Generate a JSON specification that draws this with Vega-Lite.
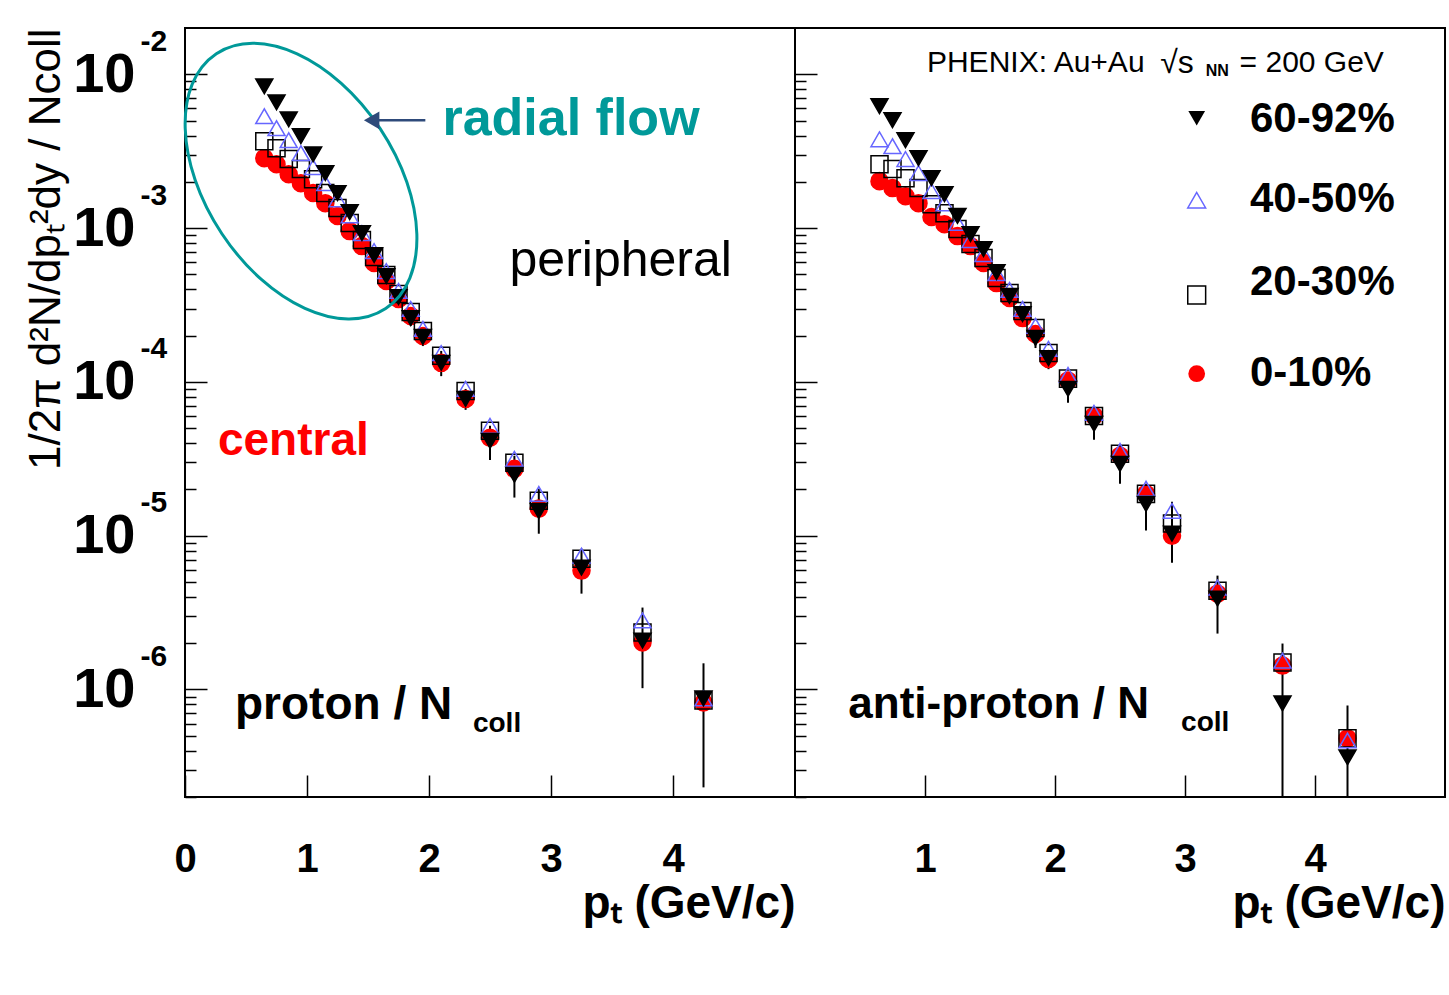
{
"$schema": "https://vega.github.io/schema/vega-lite/v6.json",
"background": "white",
"padding": {"left": 23, "top": 25, "right": 2, "bottom": 10},
"spacing": 0,
"bounds": "flush",
"config": {
  "font": "Liberation Sans",
  "view": {"stroke": "#000000", "strokeWidth": 2},
  "axis": {"domain": false, "grid": false, "tickColor": "#000000", "tickWidth": 1.5, "labelColor": "#000000", "titleColor": "#000000", "labelFont": "Liberation Sans", "titleFont": "Liberation Sans", "labelOverlap": false, "labelFlush": false}
},
"datasets": {
"spectra": [
{"panel":"p","cent":"0-10%","pt":0.65,"y":2.85e-3},{"panel":"p","cent":"0-10%","pt":0.75,"y":2.60e-3},{"panel":"p","cent":"0-10%","pt":0.85,"y":2.24e-3},{"panel":"p","cent":"0-10%","pt":0.95,"y":1.96e-3},{"panel":"p","cent":"0-10%","pt":1.05,"y":1.69e-3},{"panel":"p","cent":"0-10%","pt":1.15,"y":1.45e-3},{"panel":"p","cent":"0-10%","pt":1.25,"y":1.20e-3},{"panel":"p","cent":"0-10%","pt":1.35,"y":9.56e-4},{"panel":"p","cent":"0-10%","pt":1.45,"y":7.64e-4},{"panel":"p","cent":"0-10%","pt":1.55,"y":5.93e-4},{"panel":"p","cent":"0-10%","pt":1.65,"y":4.53e-4},{"panel":"p","cent":"0-10%","pt":1.75,"y":3.46e-4},{"panel":"p","cent":"0-10%","pt":1.85,"y":2.68e-4},{"panel":"p","cent":"0-10%","pt":1.95,"y":1.99e-4},{"panel":"p","cent":"0-10%","pt":2.1,"y":1.33e-4},{"panel":"p","cent":"0-10%","pt":2.3,"y":7.75e-5},{"panel":"p","cent":"0-10%","pt":2.5,"y":4.33e-5},{"panel":"p","cent":"0-10%","pt":2.7,"y":2.72e-5},{"panel":"p","cent":"0-10%","pt":2.9,"y":1.50e-5},{"panel":"p","cent":"0-10%","pt":3.25,"y":5.93e-6},{"panel":"p","cent":"0-10%","pt":3.75,"y":2.02e-6},{"panel":"p","cent":"0-10%","pt":4.25,"y":8.23e-7},
{"panel":"p","cent":"20-30%","pt":0.65,"y":3.67e-3},{"panel":"p","cent":"20-30%","pt":0.75,"y":3.31e-3},{"panel":"p","cent":"20-30%","pt":0.85,"y":2.81e-3},{"panel":"p","cent":"20-30%","pt":0.95,"y":2.42e-3},{"panel":"p","cent":"20-30%","pt":1.05,"y":2.08e-3},{"panel":"p","cent":"20-30%","pt":1.15,"y":1.69e-3},{"panel":"p","cent":"20-30%","pt":1.25,"y":1.35e-3},{"panel":"p","cent":"20-30%","pt":1.35,"y":1.08e-3},{"panel":"p","cent":"20-30%","pt":1.45,"y":8.36e-4},{"panel":"p","cent":"20-30%","pt":1.55,"y":6.48e-4},{"panel":"p","cent":"20-30%","pt":1.65,"y":4.95e-4},{"panel":"p","cent":"20-30%","pt":1.75,"y":3.73e-4},{"panel":"p","cent":"20-30%","pt":1.85,"y":2.85e-4},{"panel":"p","cent":"20-30%","pt":1.95,"y":2.14e-4},{"panel":"p","cent":"20-30%","pt":2.1,"y":1.48e-4},{"panel":"p","cent":"20-30%","pt":2.3,"y":8.74e-5},{"panel":"p","cent":"20-30%","pt":2.5,"y":4.81e-5},{"panel":"p","cent":"20-30%","pt":2.7,"y":2.98e-5},{"panel":"p","cent":"20-30%","pt":2.9,"y":1.69e-5},{"panel":"p","cent":"20-30%","pt":3.25,"y":7.09e-6},{"panel":"p","cent":"20-30%","pt":3.75,"y":2.35e-6},{"panel":"p","cent":"20-30%","pt":4.25,"y":8.48e-7},
{"panel":"p","cent":"40-50%","pt":0.65,"y":5.34e-3},{"panel":"p","cent":"40-50%","pt":0.75,"y":4.46e-3},{"panel":"p","cent":"40-50%","pt":0.85,"y":3.73e-3},{"panel":"p","cent":"40-50%","pt":0.95,"y":3.07e-3},{"panel":"p","cent":"40-50%","pt":1.05,"y":2.49e-3},{"panel":"p","cent":"40-50%","pt":1.15,"y":1.96e-3},{"panel":"p","cent":"40-50%","pt":1.25,"y":1.54e-3},{"panel":"p","cent":"40-50%","pt":1.35,"y":1.21e-3},{"panel":"p","cent":"40-50%","pt":1.45,"y":9.28e-4},{"panel":"p","cent":"40-50%","pt":1.55,"y":7.09e-4},{"panel":"p","cent":"40-50%","pt":1.65,"y":5.26e-4},{"panel":"p","cent":"40-50%","pt":1.75,"y":3.90e-4},{"panel":"p","cent":"40-50%","pt":1.85,"y":2.98e-4},{"panel":"p","cent":"40-50%","pt":1.95,"y":2.21e-4},{"panel":"p","cent":"40-50%","pt":2.1,"y":1.54e-4},{"panel":"p","cent":"40-50%","pt":2.3,"y":9.01e-5},{"panel":"p","cent":"40-50%","pt":2.5,"y":5.18e-5},{"panel":"p","cent":"40-50%","pt":2.7,"y":3.16e-5},{"panel":"p","cent":"40-50%","pt":2.9,"y":1.87e-5},{"panel":"p","cent":"40-50%","pt":3.25,"y":7.42e-6},{"panel":"p","cent":"40-50%","pt":3.75,"y":2.81e-6},{"panel":"p","cent":"40-50%","pt":4.25,"y":8.74e-7},
{"panel":"p","cent":"60-92%","pt":0.65,"y":8.36e-3},{"panel":"p","cent":"60-92%","pt":0.75,"y":6.58e-3},{"panel":"p","cent":"60-92%","pt":0.85,"y":5.10e-3},{"panel":"p","cent":"60-92%","pt":0.95,"y":3.96e-3},{"panel":"p","cent":"60-92%","pt":1.05,"y":3.02e-3},{"panel":"p","cent":"60-92%","pt":1.15,"y":2.28e-3},{"panel":"p","cent":"60-92%","pt":1.25,"y":1.69e-3},{"panel":"p","cent":"60-92%","pt":1.35,"y":1.27e-3},{"panel":"p","cent":"60-92%","pt":1.45,"y":9.28e-4},{"panel":"p","cent":"60-92%","pt":1.55,"y":6.68e-4},{"panel":"p","cent":"60-92%","pt":1.65,"y":4.88e-4},{"panel":"p","cent":"60-92%","pt":1.75,"y":3.56e-4},{"panel":"p","cent":"60-92%","pt":1.85,"y":2.60e-4,"lo":2.31e-4,"hi":2.9e-4},{"panel":"p","cent":"60-92%","pt":1.95,"y":1.96e-4,"lo":1.71e-4,"hi":2.2e-4},{"panel":"p","cent":"60-92%","pt":2.1,"y":1.33e-4,"lo":1.09e-4,"hi":1.59e-4},{"panel":"p","cent":"60-92%","pt":2.3,"y":7.75e-5,"lo":6.58e-5,"hi":9.0e-5},{"panel":"p","cent":"60-92%","pt":2.5,"y":4.14e-5,"lo":3.11e-5,"hi":5.18e-5},{"panel":"p","cent":"60-92%","pt":2.7,"y":2.49e-5,"lo":1.77e-5,"hi":3.31e-5},{"panel":"p","cent":"60-92%","pt":2.9,"y":1.45e-5,"lo":1.03e-5,"hi":2.02e-5},{"panel":"p","cent":"60-92%","pt":3.25,"y":6.20e-6,"lo":4.2e-6,"hi":8.23e-6},{"panel":"p","cent":"60-92%","pt":3.75,"y":2.08e-6,"lo":1.02e-6,"hi":3.41e-6},{"panel":"p","cent":"60-92%","pt":4.25,"y":8.74e-7,"lo":2.31e-7,"hi":1.48e-6},
{"panel":"a","cent":"0-10%","pt":0.65,"y":2.02e-3},{"panel":"a","cent":"0-10%","pt":0.75,"y":1.82e-3},{"panel":"a","cent":"0-10%","pt":0.85,"y":1.61e-3},{"panel":"a","cent":"0-10%","pt":0.95,"y":1.45e-3},{"panel":"a","cent":"0-10%","pt":1.05,"y":1.18e-3},{"panel":"a","cent":"0-10%","pt":1.15,"y":1.06e-3},{"panel":"a","cent":"0-10%","pt":1.25,"y":8.87e-4},{"panel":"a","cent":"0-10%","pt":1.35,"y":7.64e-4},{"panel":"a","cent":"0-10%","pt":1.45,"y":5.93e-4},{"panel":"a","cent":"0-10%","pt":1.55,"y":4.39e-4},{"panel":"a","cent":"0-10%","pt":1.65,"y":3.51e-4},{"panel":"a","cent":"0-10%","pt":1.75,"y":2.60e-4},{"panel":"a","cent":"0-10%","pt":1.85,"y":2.05e-4},{"panel":"a","cent":"0-10%","pt":1.95,"y":1.41e-4},{"panel":"a","cent":"0-10%","pt":2.1,"y":1.02e-4},{"panel":"a","cent":"0-10%","pt":2.3,"y":6.01e-5},{"panel":"a","cent":"0-10%","pt":2.5,"y":3.31e-5},{"panel":"a","cent":"0-10%","pt":2.7,"y":1.87e-5},{"panel":"a","cent":"0-10%","pt":2.9,"y":1.00e-5},{"panel":"a","cent":"0-10%","pt":3.25,"y":4.20e-6},{"panel":"a","cent":"0-10%","pt":3.75,"y":1.43e-6},{"panel":"a","cent":"0-10%","pt":4.25,"y":4.81e-7},
{"panel":"a","cent":"20-30%","pt":0.65,"y":2.60e-3},{"panel":"a","cent":"20-30%","pt":0.75,"y":2.42e-3},{"panel":"a","cent":"20-30%","pt":0.85,"y":2.11e-3},{"panel":"a","cent":"20-30%","pt":0.95,"y":1.82e-3},{"panel":"a","cent":"20-30%","pt":1.05,"y":1.43e-3},{"panel":"a","cent":"20-30%","pt":1.15,"y":1.25e-3},{"panel":"a","cent":"20-30%","pt":1.25,"y":9.85e-4},{"panel":"a","cent":"20-30%","pt":1.35,"y":7.87e-4},{"panel":"a","cent":"20-30%","pt":1.45,"y":6.39e-4},{"panel":"a","cent":"20-30%","pt":1.55,"y":4.73e-4},{"panel":"a","cent":"20-30%","pt":1.65,"y":3.78e-4},{"panel":"a","cent":"20-30%","pt":1.75,"y":2.89e-4},{"panel":"a","cent":"20-30%","pt":1.85,"y":2.24e-4},{"panel":"a","cent":"20-30%","pt":1.95,"y":1.54e-4},{"panel":"a","cent":"20-30%","pt":2.1,"y":1.05e-4},{"panel":"a","cent":"20-30%","pt":2.3,"y":6.01e-5},{"panel":"a","cent":"20-30%","pt":2.5,"y":3.41e-5},{"panel":"a","cent":"20-30%","pt":2.7,"y":1.87e-5},{"panel":"a","cent":"20-30%","pt":2.9,"y":1.20e-5},{"panel":"a","cent":"20-30%","pt":3.25,"y":4.39e-6},{"panel":"a","cent":"20-30%","pt":3.75,"y":1.50e-6},{"panel":"a","cent":"20-30%","pt":4.25,"y":4.81e-7},
{"panel":"a","cent":"40-50%","pt":0.65,"y":3.78e-3},{"panel":"a","cent":"40-50%","pt":0.75,"y":3.41e-3},{"panel":"a","cent":"40-50%","pt":0.85,"y":2.81e-3},{"panel":"a","cent":"40-50%","pt":0.95,"y":2.28e-3},{"panel":"a","cent":"40-50%","pt":1.05,"y":1.74e-3},{"panel":"a","cent":"40-50%","pt":1.15,"y":1.45e-3},{"panel":"a","cent":"40-50%","pt":1.25,"y":1.08e-3},{"panel":"a","cent":"40-50%","pt":1.35,"y":8.36e-4},{"panel":"a","cent":"40-50%","pt":1.45,"y":6.78e-4},{"panel":"a","cent":"40-50%","pt":1.55,"y":5.10e-4},{"panel":"a","cent":"40-50%","pt":1.65,"y":3.96e-4},{"panel":"a","cent":"40-50%","pt":1.75,"y":2.98e-4},{"panel":"a","cent":"40-50%","pt":1.85,"y":2.31e-4},{"panel":"a","cent":"40-50%","pt":1.95,"y":1.64e-4},{"panel":"a","cent":"40-50%","pt":2.1,"y":1.11e-4},{"panel":"a","cent":"40-50%","pt":2.3,"y":6.29e-5},{"panel":"a","cent":"40-50%","pt":2.5,"y":3.56e-5},{"panel":"a","cent":"40-50%","pt":2.7,"y":2.02e-5},{"panel":"a","cent":"40-50%","pt":2.9,"y":1.45e-5},{"panel":"a","cent":"40-50%","pt":3.25,"y":4.60e-6},{"panel":"a","cent":"40-50%","pt":3.75,"y":1.54e-6},{"panel":"a","cent":"40-50%","pt":4.25,"y":4.66e-7},
{"panel":"a","cent":"60-92%","pt":0.65,"y":6.20e-3},{"panel":"a","cent":"60-92%","pt":0.75,"y":5.03e-3},{"panel":"a","cent":"60-92%","pt":0.85,"y":3.73e-3},{"panel":"a","cent":"60-92%","pt":0.95,"y":2.85e-3},{"panel":"a","cent":"60-92%","pt":1.05,"y":2.11e-3},{"panel":"a","cent":"60-92%","pt":1.15,"y":1.66e-3},{"panel":"a","cent":"60-92%","pt":1.25,"y":1.20e-3},{"panel":"a","cent":"60-92%","pt":1.35,"y":9.14e-4},{"panel":"a","cent":"60-92%","pt":1.45,"y":7.31e-4},{"panel":"a","cent":"60-92%","pt":1.55,"y":5.18e-4},{"panel":"a","cent":"60-92%","pt":1.65,"y":3.62e-4},{"panel":"a","cent":"60-92%","pt":1.75,"y":2.76e-4},{"panel":"a","cent":"60-92%","pt":1.85,"y":1.93e-4,"lo":1.66e-4,"hi":2.2e-4},{"panel":"a","cent":"60-92%","pt":1.95,"y":1.43e-4,"lo":1.21e-4,"hi":1.59e-4},{"panel":"a","cent":"60-92%","pt":2.1,"y":9.01e-5,"lo":7.31e-5,"hi":1.05e-4},{"panel":"a","cent":"60-92%","pt":2.3,"y":5.34e-5,"lo":4.2e-5,"hi":6.48e-5},{"panel":"a","cent":"60-92%","pt":2.5,"y":2.93e-5,"lo":2.18e-5,"hi":3.9e-5},{"panel":"a","cent":"60-92%","pt":2.7,"y":1.61e-5,"lo":1.08e-5,"hi":2.18e-5},{"panel":"a","cent":"60-92%","pt":2.9,"y":1.03e-5,"lo":6.68e-6,"hi":1.66e-5},{"panel":"a","cent":"60-92%","pt":3.25,"y":3.90e-6,"lo":2.31e-6,"hi":5.5e-6},{"panel":"a","cent":"60-92%","pt":3.75,"y":8.11e-7,"lo":2.0e-7,"hi":1.99e-6},{"panel":"a","cent":"60-92%","pt":4.25,"y":3.62e-7,"lo":2.0e-7,"hi":7.87e-7}
]
},
"hconcat": [
{
  "width": 610, "height": 769,
  "data": {"name": "spectra"},
  "layer": [
    {
      "transform": [{"filter": "datum.panel == 'p' && isValid(datum.lo)"}],
      "mark": {"type": "rule", "color": "#000000", "strokeWidth": 2, "clip": true},
      "encoding": {
        "x": {"field": "pt", "type": "quantitative", "scale": {"domain": [0, 5], "nice": false, "zero": false}, "axis": null},
        "y": {"field": "lo", "type": "quantitative", "scale": {"type": "log", "domain": [2e-7, 0.02], "nice": false},
              "axis": {"orient": "left", "values": [2e-7,3e-7,4e-7,5e-7,6e-7,7e-7,8e-7,9e-7,2e-6,3e-6,4e-6,5e-6,6e-6,7e-6,8e-6,9e-6,2e-5,3e-5,4e-5,5e-5,6e-5,7e-5,8e-5,9e-5,2e-4,3e-4,4e-4,5e-4,6e-4,7e-4,8e-4,9e-4,2e-3,3e-3,4e-3,5e-3,6e-3,7e-3,8e-3,9e-3], "labels": false, "tickSize": -11, "title": null}},
        "y2": {"field": "hi"}
      }
    },
    {
      "transform": [{"filter": "datum.panel == 'p'"}],
      "mark": {"type": "point", "filled": true, "strokeWidth": 1.5, "size": 290, "opacity": 1},
      "encoding": {
        "x": {"field": "pt", "type": "quantitative", "scale": {"domain": [0, 5], "nice": false, "zero": false},
              "axis": {"orient": "bottom", "values": [0, 1, 2, 3, 4], "tickSize": -22, "labelFontSize": 40, "labelFontWeight": "bold", "labelPadding": 64, "title": "pₜ (GeV/c)", "titleFontSize": 46, "titleFontWeight": "bold", "titleAnchor": "end", "titlePadding": 2}},
        "y": {"field": "y", "type": "quantitative", "scale": {"type": "log", "domain": [2e-7, 0.02], "nice": false},
              "axis": {"orient": "left", "values": [1e-6, 1e-5, 1e-4, 1e-3, 1e-2], "tickSize": -22, "labelExpr": "'10'", "labelFontSize": 56, "labelFontWeight": "bold", "labelPadding": 72, "title": "1/2π d²N/dpₜ²dy / Ncoll", "titleFontSize": 44, "titleFontWeight": "normal", "titleAnchor": "end", "titlePadding": 4}},
        "shape": {"field": "cent", "type": "nominal", "scale": {"domain": ["60-92%", "40-50%", "20-30%", "0-10%"], "range": ["triangle-down", "triangle-up", "square", "circle"]}, "legend": null},
        "fill": {"field": "cent", "type": "nominal", "scale": {"domain": ["60-92%", "40-50%", "20-30%", "0-10%"], "range": ["#000000", "transparent", "transparent", "#ff0000"]}, "legend": null},
        "stroke": {"field": "cent", "type": "nominal", "scale": {"domain": ["60-92%", "40-50%", "20-30%", "0-10%"], "range": ["#000000", "#6666ff", "#000000", "#ff0000"]}, "legend": null}
      }
    },
    {
      "data": {"values": [{}]},
      "mark": {"type": "text", "text": "central", "align": "left", "baseline": "middle", "fontSize": 46, "fontWeight": "bold", "color": "#ff0000", "font": "Liberation Sans"},
      "encoding": {
        "x": {"datum": 0.27, "type": "quantitative", "scale": {"domain": [0, 5], "nice": false, "zero": false}, "axis": null},
        "y": {"datum": 4.14e-5, "type": "quantitative", "scale": {"type": "log", "domain": [2e-7, 0.02], "nice": false},
              "axis": {"orient": "left", "values": [1e-6, 1e-5, 1e-4, 1e-3, 1e-2], "ticks": false, "tickSize": 0, "labelExpr": "'' + round(log(datum.value)/LN10)", "labelFontSize": 30, "labelFontWeight": "bold", "labelAlign": "left", "labelPadding": 45, "labelOffset": -33, "title": null}}
      }
    },
    {
      "data": {"values": [{}]},
      "mark": {"type": "text", "text": "peripheral", "align": "left", "baseline": "middle", "fontSize": 50, "color": "#000000", "font": "Liberation Sans"},
      "encoding": {
        "x": {"datum": 2.66, "type": "quantitative", "scale": {"domain": [0, 5], "nice": false, "zero": false}, "axis": null},
        "y": {"datum": 6.11e-4, "type": "quantitative", "scale": {"type": "log", "domain": [2e-7, 0.02], "nice": false}, "axis": null}
      }
    },
    {
      "data": {"values": [{}]},
      "mark": {"type": "text", "text": "radial flow", "align": "left", "baseline": "middle", "fontSize": 52, "fontWeight": "bold", "color": "#009999", "font": "Liberation Sans"},
      "encoding": {
        "x": {"datum": 2.11, "type": "quantitative", "scale": {"domain": [0, 5], "nice": false, "zero": false}, "axis": null},
        "y": {"datum": 5.1e-3, "type": "quantitative", "scale": {"type": "log", "domain": [2e-7, 0.02], "nice": false}, "axis": null}
      }
    },
    {
      "data": {"values": [{}]},
      "mark": {"type": "text", "text": "proton / N", "align": "left", "baseline": "middle", "fontSize": 46, "fontWeight": "bold", "color": "#000000", "font": "Liberation Sans"},
      "encoding": {
        "x": {"datum": 0.41, "type": "quantitative", "scale": {"domain": [0, 5], "nice": false, "zero": false}, "axis": null},
        "y": {"datum": 7.87e-7, "type": "quantitative", "scale": {"type": "log", "domain": [2e-7, 0.02], "nice": false}, "axis": null}
      }
    },
    {
      "data": {"values": [{}]},
      "mark": {"type": "text", "text": "coll", "align": "left", "baseline": "middle", "fontSize": 28, "fontWeight": "bold", "color": "#000000", "font": "Liberation Sans"},
      "encoding": {
        "x": {"datum": 2.36, "type": "quantitative", "scale": {"domain": [0, 5], "nice": false, "zero": false}, "axis": null},
        "y": {"datum": 5.93e-7, "type": "quantitative", "scale": {"type": "log", "domain": [2e-7, 0.02], "nice": false}, "axis": null}
      }
    },
    {
      "data": {"values": [{}]},
      "mark": {"type": "point", "shape": "M 1 0 C 1 0.343 0.552 0.621 0 0.621 C -0.552 0.621 -1 0.343 -1 0 C -1 -0.343 -0.552 -0.621 0 -0.621 C 0.552 -0.621 1 -0.343 1 0 Z", "size": 93636, "angle": 56.4, "filled": false, "stroke": "#009999", "strokeWidth": 3, "opacity": 1},
      "encoding": {
        "x": {"datum": 0.951, "type": "quantitative", "scale": {"domain": [0, 5], "nice": false, "zero": false}, "axis": null},
        "y": {"datum": 2.02e-3, "type": "quantitative", "scale": {"type": "log", "domain": [2e-7, 0.02], "nice": false}, "axis": null}
      }
    },
    {
      "data": {"values": [{}]},
      "mark": {"type": "rule", "color": "#2e4a7a", "strokeWidth": 2.5},
      "encoding": {
        "x": {"datum": 1.56, "type": "quantitative", "scale": {"domain": [0, 5], "nice": false, "zero": false}, "axis": null},
        "x2": {"datum": 1.97},
        "y": {"datum": 5.02e-3, "type": "quantitative", "scale": {"type": "log", "domain": [2e-7, 0.02], "nice": false}, "axis": null}
      }
    },
    {
      "data": {"values": [{}]},
      "mark": {"type": "point", "shape": "triangle-left", "size": 320, "filled": true, "color": "#2e4a7a", "opacity": 1},
      "encoding": {
        "x": {"datum": 1.53, "type": "quantitative", "scale": {"domain": [0, 5], "nice": false, "zero": false}, "axis": null},
        "y": {"datum": 5.02e-3, "type": "quantitative", "scale": {"type": "log", "domain": [2e-7, 0.02], "nice": false}, "axis": null}
      }
    }
  ],
  "resolve": {"axis": {"x": "independent", "y": "independent"}}
},
{
  "width": 650, "height": 769,
  "data": {"name": "spectra"},
  "layer": [
    {
      "transform": [{"filter": "datum.panel == 'a' && isValid(datum.lo)"}],
      "mark": {"type": "rule", "color": "#000000", "strokeWidth": 2, "clip": true},
      "encoding": {
        "x": {"field": "pt", "type": "quantitative", "scale": {"domain": [0, 5], "nice": false, "zero": false}, "axis": null},
        "y": {"field": "lo", "type": "quantitative", "scale": {"type": "log", "domain": [2e-7, 0.02], "nice": false},
              "axis": {"orient": "left", "values": [2e-7,3e-7,4e-7,5e-7,6e-7,7e-7,8e-7,9e-7,2e-6,3e-6,4e-6,5e-6,6e-6,7e-6,8e-6,9e-6,2e-5,3e-5,4e-5,5e-5,6e-5,7e-5,8e-5,9e-5,2e-4,3e-4,4e-4,5e-4,6e-4,7e-4,8e-4,9e-4,2e-3,3e-3,4e-3,5e-3,6e-3,7e-3,8e-3,9e-3], "labels": false, "tickSize": -11, "title": null}},
        "y2": {"field": "hi"}
      }
    },
    {
      "transform": [{"filter": "datum.panel == 'a'"}],
      "mark": {"type": "point", "filled": true, "strokeWidth": 1.5, "size": 290, "opacity": 1},
      "encoding": {
        "x": {"field": "pt", "type": "quantitative", "scale": {"domain": [0, 5], "nice": false, "zero": false},
              "axis": {"orient": "bottom", "values": [1, 2, 3, 4], "tickSize": -22, "labelFontSize": 40, "labelFontWeight": "bold", "labelPadding": 64, "title": "pₜ (GeV/c)", "titleFontSize": 46, "titleFontWeight": "bold", "titleAnchor": "end", "titlePadding": 2}},
        "y": {"field": "y", "type": "quantitative", "scale": {"type": "log", "domain": [2e-7, 0.02], "nice": false},
              "axis": {"orient": "left", "values": [1e-6, 1e-5, 1e-4, 1e-3, 1e-2], "tickSize": -22, "labels": false, "title": null}},
        "shape": {"field": "cent", "type": "nominal", "scale": {"domain": ["60-92%", "40-50%", "20-30%", "0-10%"], "range": ["triangle-down", "triangle-up", "square", "circle"]}, "legend": null},
        "fill": {"field": "cent", "type": "nominal", "scale": {"domain": ["60-92%", "40-50%", "20-30%", "0-10%"], "range": ["#000000", "transparent", "transparent", "#ff0000"]}, "legend": null},
        "stroke": {"field": "cent", "type": "nominal", "scale": {"domain": ["60-92%", "40-50%", "20-30%", "0-10%"], "range": ["#000000", "#6666ff", "#000000", "#ff0000"]}, "legend": null}
      }
    },
    {
      "data": {"values": [{}]},
      "mark": {"type": "point", "shape": "triangle-down", "size": 280, "filled": true, "color": "#000000", "opacity": 1},
      "encoding": {
        "x": {"datum": 3.09, "type": "quantitative", "scale": {"domain": [0, 5], "nice": false, "zero": false}, "axis": null},
        "y": {"datum": 5.18e-3, "type": "quantitative", "scale": {"type": "log", "domain": [2e-7, 0.02], "nice": false}, "axis": null}
      }
    },
    {
      "data": {"values": [{}]},
      "mark": {"type": "point", "shape": "triangle-up", "size": 320, "filled": false, "stroke": "#6666ff", "strokeWidth": 1.5, "opacity": 1},
      "encoding": {
        "x": {"datum": 3.09, "type": "quantitative", "scale": {"domain": [0, 5], "nice": false, "zero": false}, "axis": null},
        "y": {"datum": 1.52e-3, "type": "quantitative", "scale": {"type": "log", "domain": [2e-7, 0.02], "nice": false}, "axis": null}
      }
    },
    {
      "data": {"values": [{}]},
      "mark": {"type": "point", "shape": "square", "size": 320, "filled": false, "stroke": "#000000", "strokeWidth": 1.5, "opacity": 1},
      "encoding": {
        "x": {"datum": 3.09, "type": "quantitative", "scale": {"domain": [0, 5], "nice": false, "zero": false}, "axis": null},
        "y": {"datum": 3.67e-4, "type": "quantitative", "scale": {"type": "log", "domain": [2e-7, 0.02], "nice": false}, "axis": null}
      }
    },
    {
      "data": {"values": [{}]},
      "mark": {"type": "point", "shape": "circle", "size": 280, "filled": true, "color": "#ff0000", "opacity": 1},
      "encoding": {
        "x": {"datum": 3.09, "type": "quantitative", "scale": {"domain": [0, 5], "nice": false, "zero": false}, "axis": null},
        "y": {"datum": 1.13e-4, "type": "quantitative", "scale": {"type": "log", "domain": [2e-7, 0.02], "nice": false}, "axis": null}
      }
    },
    {
      "data": {"values": [{}]},
      "mark": {"type": "text", "text": "60-92%", "align": "left", "baseline": "middle", "fontSize": 42, "fontWeight": "bold", "color": "#000000", "font": "Liberation Sans"},
      "encoding": {
        "x": {"datum": 3.5, "type": "quantitative", "scale": {"domain": [0, 5], "nice": false, "zero": false}, "axis": null},
        "y": {"datum": 5.1e-3, "type": "quantitative", "scale": {"type": "log", "domain": [2e-7, 0.02], "nice": false}, "axis": null}
      }
    },
    {
      "data": {"values": [{}]},
      "mark": {"type": "text", "text": "40-50%", "align": "left", "baseline": "middle", "fontSize": 42, "fontWeight": "bold", "color": "#000000", "font": "Liberation Sans"},
      "encoding": {
        "x": {"datum": 3.5, "type": "quantitative", "scale": {"domain": [0, 5], "nice": false, "zero": false}, "axis": null},
        "y": {"datum": 1.54e-3, "type": "quantitative", "scale": {"type": "log", "domain": [2e-7, 0.02], "nice": false}, "axis": null}
      }
    },
    {
      "data": {"values": [{}]},
      "mark": {"type": "text", "text": "20-30%", "align": "left", "baseline": "middle", "fontSize": 42, "fontWeight": "bold", "color": "#000000", "font": "Liberation Sans"},
      "encoding": {
        "x": {"datum": 3.5, "type": "quantitative", "scale": {"domain": [0, 5], "nice": false, "zero": false}, "axis": null},
        "y": {"datum": 4.46e-4, "type": "quantitative", "scale": {"type": "log", "domain": [2e-7, 0.02], "nice": false}, "axis": null}
      }
    },
    {
      "data": {"values": [{}]},
      "mark": {"type": "text", "text": "0-10%", "align": "left", "baseline": "middle", "fontSize": 42, "fontWeight": "bold", "color": "#000000", "font": "Liberation Sans"},
      "encoding": {
        "x": {"datum": 3.5, "type": "quantitative", "scale": {"domain": [0, 5], "nice": false, "zero": false}, "axis": null},
        "y": {"datum": 1.14e-4, "type": "quantitative", "scale": {"type": "log", "domain": [2e-7, 0.02], "nice": false}, "axis": null}
      }
    },
    {
      "data": {"values": [{}]},
      "mark": {"type": "text", "text": "PHENIX: Au+Au", "align": "left", "baseline": "middle", "fontSize": 30, "color": "#000000", "font": "Liberation Sans"},
      "encoding": {
        "x": {"datum": 1.015, "type": "quantitative", "scale": {"domain": [0, 5], "nice": false, "zero": false}, "axis": null},
        "y": {"datum": 0.01178, "type": "quantitative", "scale": {"type": "log", "domain": [2e-7, 0.02], "nice": false}, "axis": null}
      }
    },
    {
      "data": {"values": [{}]},
      "mark": {"type": "text", "text": "√s", "align": "left", "baseline": "middle", "fontSize": 32, "color": "#000000", "font": "Liberation Sans"},
      "encoding": {
        "x": {"datum": 2.81, "type": "quantitative", "scale": {"domain": [0, 5], "nice": false, "zero": false}, "axis": null},
        "y": {"datum": 0.01178, "type": "quantitative", "scale": {"type": "log", "domain": [2e-7, 0.02], "nice": false}, "axis": null}
      }
    },
    {
      "data": {"values": [{}]},
      "mark": {"type": "text", "text": "NN", "align": "left", "baseline": "middle", "fontSize": 16, "fontWeight": "bold", "color": "#000000", "font": "Liberation Sans"},
      "encoding": {
        "x": {"datum": 3.16, "type": "quantitative", "scale": {"domain": [0, 5], "nice": false, "zero": false}, "axis": null},
        "y": {"datum": 0.01047, "type": "quantitative", "scale": {"type": "log", "domain": [2e-7, 0.02], "nice": false}, "axis": null}
      }
    },
    {
      "data": {"values": [{}]},
      "mark": {"type": "text", "text": "= 200 GeV", "align": "left", "baseline": "middle", "fontSize": 30, "color": "#000000", "font": "Liberation Sans"},
      "encoding": {
        "x": {"datum": 3.42, "type": "quantitative", "scale": {"domain": [0, 5], "nice": false, "zero": false}, "axis": null},
        "y": {"datum": 0.01178, "type": "quantitative", "scale": {"type": "log", "domain": [2e-7, 0.02], "nice": false}, "axis": null}
      }
    },
    {
      "data": {"values": [{}]},
      "mark": {"type": "text", "text": "anti-proton / N", "align": "left", "baseline": "middle", "fontSize": 44, "fontWeight": "bold", "color": "#000000", "font": "Liberation Sans"},
      "encoding": {
        "x": {"datum": 0.41, "type": "quantitative", "scale": {"domain": [0, 5], "nice": false, "zero": false}, "axis": null},
        "y": {"datum": 7.87e-7, "type": "quantitative", "scale": {"type": "log", "domain": [2e-7, 0.02], "nice": false}, "axis": null}
      }
    },
    {
      "data": {"values": [{}]},
      "mark": {"type": "text", "text": "coll", "align": "left", "baseline": "middle", "fontSize": 28, "fontWeight": "bold", "color": "#000000", "font": "Liberation Sans"},
      "encoding": {
        "x": {"datum": 2.97, "type": "quantitative", "scale": {"domain": [0, 5], "nice": false, "zero": false}, "axis": null},
        "y": {"datum": 6.1e-7, "type": "quantitative", "scale": {"type": "log", "domain": [2e-7, 0.02], "nice": false}, "axis": null}
      }
    }
  ],
  "resolve": {"axis": {"x": "independent", "y": "independent"}}
}
]
}
